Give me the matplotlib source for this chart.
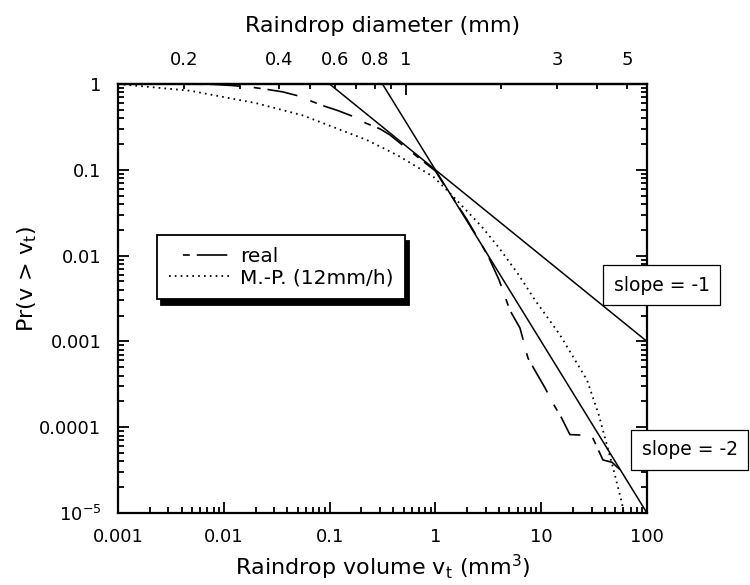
import numpy as np
import matplotlib

matplotlib.use("Agg")
import matplotlib.pyplot as plt
from matplotlib import ticker

plt.rcParams["font.family"] = ["DejaVu Sans"]
plt.rcParams["mathtext.default"] = "regular"
plt.rcParams["lines.scale_dashes"] = False

# values
real_v = [0.004, 0.008, 0.012, 0.018, 0.025, 0.036, 0.05, 0.061, 0.09, 0.12,
          0.166, 0.22, 0.3, 0.372, 0.5, 0.7, 1.0, 1.18, 1.5, 2.0,
          2.6, 3.2, 4.0, 5.07, 6.31, 7.5, 9.0, 10.9, 12.9, 15.5,
          18.7, 30.0, 38.4, 46.7, 55.6]
real_p = [1.0, 0.99, 0.96, 0.92, 0.87, 0.81, 0.73, 0.66, 0.55, 0.49,
          0.42, 0.35, 0.30, 0.255, 0.19, 0.137, 0.097, 0.070, 0.045, 0.026,
          0.015, 0.0095, 0.0052, 0.0023, 0.00143, 0.00064, 0.00043, 0.000286, 0.000191, 0.00013,
          0.000082, 0.00008, 0.0000415, 0.000039, 0.000032]

mp_v = [0.001, 0.0048, 0.0205, 0.056, 0.0866, 0.224, 0.35, 0.464, 0.957, 1.37,
        2.75, 4.0, 6.0, 8.73, 15.0, 27.1, 35.0, 47.7, 58.1, 62.0]
mp_p = [1.0, 0.835, 0.596, 0.43, 0.35, 0.223, 0.17, 0.142, 0.083, 0.0536,
        0.0217, 0.0123, 0.0062, 0.00304, 0.0012, 0.000355, 0.00014, 0.000034, 0.000013, 0.000008]

slope1_v = [0.1, 100]
slope1_p = [1.0, 0.001]
slope2_v = [0.3162, 100]
slope2_p = [1.0, 0.00001]

x_ticks = [0.001, 0.01, 0.1, 1, 10, 100]
x_labels = ["0.001", "0.01", "0.1", "1", "10", "100"]
y_ticks = [1e-5, 1e-4, 1e-3, 1e-2, 1e-1, 1]
y_labels = ["10$^{-5}$", "0.0001", "0.001", "0.01", "0.1", "1"]

diam_major = [1]
diam_minor = [0.2, 0.3, 0.4, 0.5, 0.6, 0.7, 0.8, 0.9, 2, 3, 4, 5]
diam_minor_labels = ["0.2", "", "0.4", "", "0.6", "", "0.8", "", "", "3", "", "5"]


def vol_to_diam(v):
    return np.cbrt(6 * np.asarray(v, dtype=float) / np.pi)


def diam_to_vol(d):
    return np.pi / 6 * np.asarray(d, dtype=float) ** 3


fig = plt.figure(figsize=(7.5, 5.85), dpi=100)
ax = fig.add_axes([0.1573, 0.1231, 0.7053, 0.7333])

ax.plot(slope1_v, slope1_p, color="black", lw=1.1)
ax.plot(slope2_v, slope2_p, color="black", lw=1.1)
ax.plot(real_v, real_p, color="black", lw=1.2, linestyle=(32, (5, 5, 22, 10)), label="real")
ax.plot(mp_v, mp_p, color="black", lw=1.3, linestyle=(0, (1.2, 3.0)), label="M.-P. (12mm/h)")

ax.set_xscale("log")
ax.set_yscale("log")
ax.set_xlim(0.001, 100)
ax.set_ylim(1e-5, 1)

ax.set_xticks(x_ticks, labels=x_labels)
ax.set_yticks(y_ticks, labels=y_labels)
ax.xaxis.set_minor_locator(ticker.LogLocator(base=10, subs=np.arange(2, 10), numticks=20))
ax.yaxis.set_minor_locator(ticker.LogLocator(base=10, subs=np.arange(2, 10), numticks=20))
ax.xaxis.set_minor_formatter(ticker.NullFormatter())
ax.yaxis.set_minor_formatter(ticker.NullFormatter())

ax.tick_params(which="both", direction="in", top=False, right=True, width=1.3, labelsize=13)
ax.tick_params(which="major", length=8)
ax.tick_params(which="minor", length=4.5)
ax.tick_params(axis="y", pad=12)
ax.tick_params(axis="x", pad=10.5)
for sp in ax.spines.values():
    sp.set_linewidth(1.6)

ax.set_xlabel("Raindrop volume v$_t$ (mm$^3$)", fontsize=16)
ax.set_ylabel("Pr(v > v$_t$)", fontsize=16)
ax.xaxis.set_label_coords(0.5, -0.093)
ax.yaxis.set_label_coords(-0.15, 0.545)

# diameter axis on top
secax = ax.secondary_xaxis("top", functions=(vol_to_diam, diam_to_vol))
secax.set_xticks(diam_major, labels=["1"])
secax.xaxis.set_minor_locator(ticker.FixedLocator(diam_minor))
secax.xaxis.set_minor_formatter(ticker.FixedFormatter(diam_minor_labels))
secax.tick_params(which="both", direction="in", width=1.3, labelsize=13, pad=11)
secax.tick_params(which="major", length=8)
secax.tick_params(which="minor", length=3.5)
secax.spines["top"].set_linewidth(1.6)
secax.set_xlabel("Raindrop diameter (mm)", fontsize=16)
secax.xaxis.set_label_coords(0.5, 1.121, transform=ax.transAxes)

leg = ax.legend(
    loc="upper left",
    bbox_to_anchor=(0.074, 0.648),
    borderaxespad=0,
    fontsize=14.5,
    fancybox=False,
    framealpha=1,
    edgecolor="black",
    handlelength=3.0,
    handletextpad=0.5,
    labelspacing=0.1,
    borderpad=0.6,
    shadow={"ox": 2.5, "oy": -4.5, "facecolor": "black", "edgecolor": "black", "alpha": 1},
)
leg.get_frame().set_linewidth(1.3)

box = dict(boxstyle="square,pad=0.55", fc="white", ec="black", lw=0.9)
ax.text(1.028, 0.531, "slope = -1", transform=ax.transAxes, ha="center", va="center",
        fontsize=13.5, bbox=box, clip_on=False, zorder=6)
ax.text(1.081, 0.147, "slope = -2", transform=ax.transAxes, ha="center", va="center",
        fontsize=13.5, bbox=box, clip_on=False, zorder=6)

fig.savefig("out.png", dpi=100)
